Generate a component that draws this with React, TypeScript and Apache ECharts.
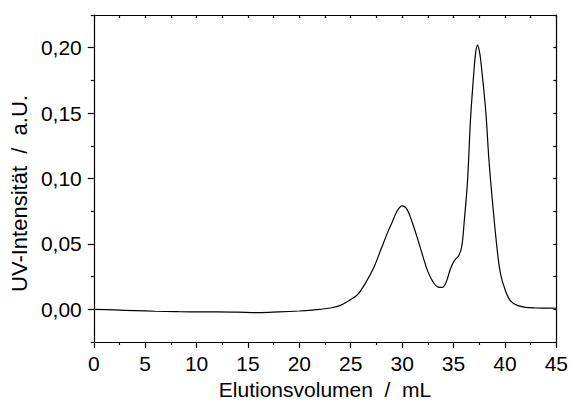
import React, { useEffect, useRef } from "react";
import * as echarts from "echarts";

const volume = [
  0, 2, 4, 6, 8, 10, 12, 14, 16, 18, 20, 21, 22, 23, 24, 25, 25.7, 26.5, 27.3, 28, 28.6, 29, 29.5, 30,
  30.5, 31, 31.5, 32, 32.5, 33, 33.5, 33.9, 34.3, 34.7, 35.1, 35.5, 35.8, 36.05, 36.36, 36.65, 36.94,
  37.15, 37.33, 37.5, 37.65, 38.13, 38.45, 38.87, 39.26, 39.58, 40.06, 40.54, 41.2, 42, 43, 44, 45,
];
const intensity = [
  0.0, -0.0005, -0.001, -0.0015, -0.0018, -0.002, -0.002, -0.0022, -0.0025, -0.002, -0.0013, -0.0008, 0.0,
  0.001, 0.003, 0.0075, 0.0115, 0.021, 0.033, 0.047, 0.059, 0.066, 0.075, 0.079, 0.076, 0.066, 0.054,
  0.041, 0.029, 0.021, 0.017, 0.0168, 0.021, 0.031, 0.0375, 0.041, 0.048, 0.068, 0.098, 0.145, 0.1775,
  0.196, 0.202, 0.198, 0.19, 0.152, 0.1136, 0.0753, 0.0447, 0.0268, 0.014, 0.0064, 0.003, 0.0015, 0.001,
  0.0009, 0.0008,
];
const yMajor = [0, 0.05, 0.1, 0.15, 0.2];
const yMinor = [-0.025, 0.025, 0.075, 0.125, 0.175, 0.225];

const FONT = "'Liberation Sans', Arial, sans-serif";

export default function App() {
  const ref = useRef<HTMLDivElement>(null);
  useEffect(() => {
    document.body.style.margin = "0";
    const chart = echarts.init(ref.current!, null, { renderer: "svg" });
    const black = "#000";
    const tickStyle = { color: black, width: 1.2 };
    const baseY = {
      type: "value" as const,
      min: -0.025,
      max: 0.225,
      splitLine: { show: false },
    };
    chart.setOption({
      animation: false,
      backgroundColor: "#fff",
      textStyle: { fontFamily: FONT },
      grid: { left: 93, right: 12, top: 15, bottom: 63 },
      xAxis: [
        {
          type: "value",
          min: 0,
          max: 45,
          interval: 5,
          position: "bottom",
          name: "Elutionsvolumen  /  mL",
          nameLocation: "middle",
          nameGap: 37,
          nameTextStyle: { fontSize: 21, color: black, fontFamily: FONT },
          axisLine: { show: true, onZero: false, lineStyle: { color: black, width: 1.2 } },
          axisTick: { show: true, length: 6, lineStyle: tickStyle },
          minorTick: { show: true, splitNumber: 2, length: 3, lineStyle: tickStyle },
          axisLabel: { show: true, fontSize: 21, color: black, fontFamily: FONT, margin: 11 },
          splitLine: { show: false },
        },
        {
          type: "value",
          min: 0,
          max: 45,
          interval: 5,
          position: "top",
          axisLine: { show: true, onZero: false, lineStyle: { color: black, width: 1.2 } },
          axisTick: { show: true, inside: true, length: 3, lineStyle: tickStyle },
          minorTick: { show: true, splitNumber: 2, length: 3, lineStyle: tickStyle },
          axisLabel: { show: false },
          splitLine: { show: false },
        },
      ],
      yAxis: [
        {
          ...baseY,
          position: "left",
          name: "UV-Intensität  /  a.U.",
          nameLocation: "middle",
          nameGap: 58,
          nameTextStyle: { fontSize: 22, color: black, fontFamily: FONT, padding: [0, 30, 0, 0] },
          axisLine: { show: true, onZero: false, lineStyle: { color: black, width: 1.2 } },
          axisTick: { show: true, length: 6, customValues: yMajor, lineStyle: tickStyle },
          axisLabel: {
            show: true,
            fontSize: 21,
            color: black,
            fontFamily: FONT,
            margin: 12,
            customValues: yMajor,
            formatter: (v: number) => v.toFixed(2).replace(".", ","),
          },
        },
        {
          ...baseY,
          position: "left",
          axisLine: { show: false, onZero: false },
          axisTick: { show: true, length: 3, customValues: yMinor, lineStyle: tickStyle },
          axisLabel: { show: false },
        },
        {
          ...baseY,
          position: "right",
          axisLine: { show: true, onZero: false, lineStyle: { color: black, width: 1.2 } },
          axisTick: {
            show: true,
            inside: true,
            length: 3,
            customValues: [...yMajor, ...yMinor],
            lineStyle: tickStyle,
          },
          axisLabel: { show: false },
        },
      ],
      series: [
        {
          type: "line",
          xAxisIndex: 0,
          yAxisIndex: 0,
          data: volume.map((v, i) => [v, intensity[i]]),
          smooth: 0.35,
          showSymbol: false,
          lineStyle: { color: black, width: 1.2 },
        },
      ],
    });
    return () => chart.dispose();
  }, []);
  return <div ref={ref} style={{ width: 571, height: 405 }} />;
}
